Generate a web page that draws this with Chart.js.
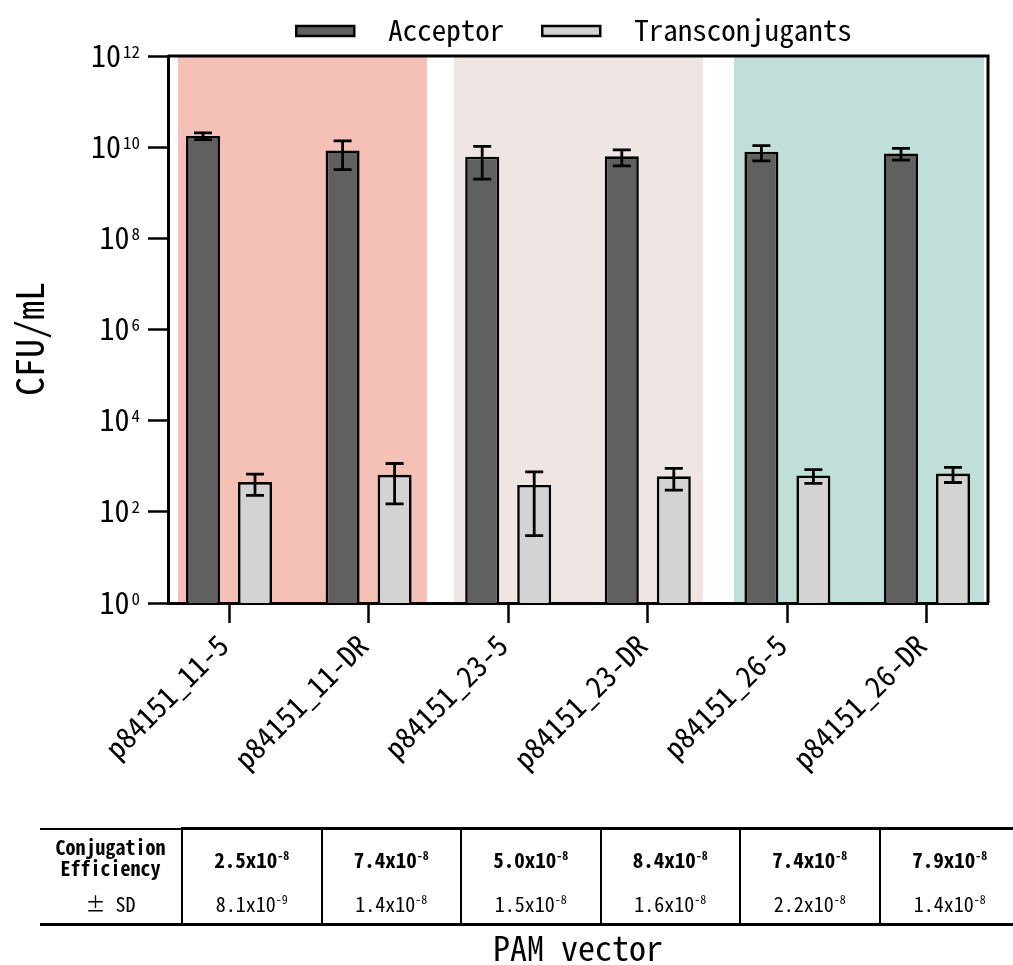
<!DOCTYPE html>
<html>
<head>
<meta charset="utf-8">
<script src="https://cdn.jsdelivr.net/npm/chart.js@4.4.1/dist/chart.umd.min.js"></script>
<style>
  html, body { margin: 0; padding: 0; background: #fff; overflow: hidden; }
  #wrap { position: relative; width: 1013px; height: 965px; overflow: hidden; }
  #chart { position: absolute; left: 0; top: 0; }
  #eff {
    position: absolute; left: 40px; top: 827px;
    border-collapse: collapse; table-layout: fixed; width: 979px;
    font-family: 'Noto Sans Mono CJK JP', 'Noto Sans Mono CJK SC', 'DejaVu Sans Mono', monospace;
    color: #000;
  }
  #eff th, #eff td { padding: 0; text-align: center; vertical-align: middle; line-height: 22px; }
  #eff tr.r1 th { height: 54px; border-top: 2px solid #000; font-weight: bold; font-size: 20px; line-height: 21px; }
  #eff tr.r1 td { height: 52px; border-top: 3px solid #000; font-weight: bold; font-size: 21px; padding-top: 3px; }
  #eff tr.r2 th, #eff tr.r2 td { height: 38px; border-bottom: 3px solid #000; font-weight: normal; font-size: 20px; }
  #eff td { border-left: 2.5px solid #000; }
  #eff sup { font-size: 12px; vertical-align: 8px; line-height: 0; }
</style>
</head>
<body>
<div id="wrap">
  <canvas id="chart" width="1013" height="965"></canvas>
  <table id="eff"></table>
</div>
<script>
const FONT = "'Noto Sans Mono CJK JP', 'Noto Sans Mono CJK SC', 'DejaVu Sans Mono', monospace";

// Plasmid constructs on the x axis
const categories = ['p84151_11-5', 'p84151_11-DR', 'p84151_23-5', 'p84151_23-DR', 'p84151_26-5', 'p84151_26-DR'];

// CFU/mL, mean and standard deviation
const acceptorMean = [1.76e10, 8.5e9, 6.2e9, 6.3e9, 7.9e9, 7.3e9];
const acceptorSD   = [0.30e10, 5.3e9, 4.2e9, 2.4e9, 2.9e9, 2.1e9];
const transMean    = [450, 650, 390, 600, 630, 690];
const transSD      = [220, 500, 360, 300, 210, 250];

// Log axis ticks (every second decade)
const yTickValues = [1e0, 1e2, 1e4, 1e6, 1e8, 1e10, 1e12];

// Conjugation efficiency table (mantissa x 10^exponent)
const effMantissa = ['2.5', '7.4', '5.0', '8.4', '7.4', '7.9'];
const effExponent = [-8, -8, -8, -8, -8, -8];
const sdMantissa  = ['8.1', '1.4', '1.5', '1.6', '2.2', '1.4'];
const sdExponent  = [-9, -8, -8, -8, -8, -8];

// Shaded bands behind each pair of constructs, in category units
const bandRanges = [[-0.365, 1.418], [1.612, 3.395], [3.617, 5.408]];
const bandColors = ['#f5c0b5', '#efe5e3', '#c0dfd9'];

const seriesNames  = ['Acceptor', 'Transconjugants'];
const seriesFill   = ['#606060', '#d3d3d3'];
const seriesErrors = [acceptorSD, transSD];

// ---- table below the plot ----
(function buildTable() {
  const t = document.getElementById('eff');
  let html = '<colgroup><col style="width:142px">' +
    categories.map(() => '<col style="width:139.5px">').join('') + '</colgroup>';
  html += '<tr class="r1"><th>Conjugation<br>Efficiency</th>' +
    effMantissa.map((m, i) => `<td>${m}x10<sup>${effExponent[i]}</sup></td>`).join('') + '</tr>';
  html += '<tr class="r2"><th>\u00b1 SD</th>' +
    sdMantissa.map((m, i) => `<td>${m}x10<sup>${sdExponent[i]}</sup></td>`).join('') + '</tr>';
  t.innerHTML = html;
})();

// ---- plugins ----
const bandPlugin = {
  id: 'bands',
  beforeDraw(chart) {
    const { ctx, chartArea, scales: { x } } = chart;
    ctx.save();
    bandRanges.forEach((r, i) => {
      const x0 = x.getPixelForValue(r[0]);
      const x1 = x.getPixelForValue(r[1]);
      ctx.fillStyle = bandColors[i];
      ctx.fillRect(x0, chartArea.top, x1 - x0, chartArea.bottom - chartArea.top);
    });
    ctx.restore();
  }
};

const errorBarPlugin = {
  id: 'errorBars',
  afterDatasetsDraw(chart) {
    const { ctx, scales: { y } } = chart;
    ctx.save();
    ctx.strokeStyle = '#000';
    ctx.lineWidth = 2.8;
    chart.data.datasets.forEach((ds, di) => {
      const meta = chart.getDatasetMeta(di);
      const errs = seriesErrors[di];
      meta.data.forEach((bar, i) => {
        const m = ds.data[i].y;
        const s = errs[i];
        const yHi = y.getPixelForValue(m + s);
        const yLo = y.getPixelForValue(Math.max(m - s, y.min));
        const cap = 9;
        ctx.beginPath();
        ctx.moveTo(bar.x, yHi); ctx.lineTo(bar.x, yLo);
        ctx.moveTo(bar.x - cap, yHi); ctx.lineTo(bar.x + cap, yHi);
        ctx.moveTo(bar.x - cap, yLo); ctx.lineTo(bar.x + cap, yLo);
        ctx.stroke();
      });
    });
    ctx.restore();
  }
};

const framePlugin = {
  id: 'frame',
  afterDatasetsDraw(chart) {
    const { ctx, chartArea } = chart;
    ctx.save();
    ctx.strokeStyle = '#000';
    ctx.lineWidth = 3;
    ctx.beginPath();
    ctx.moveTo(chartArea.left, chartArea.top);
    ctx.lineTo(chartArea.right, chartArea.top);
    ctx.lineTo(chartArea.right, chartArea.bottom);
    ctx.stroke();
    ctx.restore();
  }
};

// power-of-ten labels with raised exponents
const powerLabelPlugin = {
  id: 'powerLabels',
  afterDraw(chart) {
    const { ctx } = chart;
    const y = chart.scales.y;
    const right = y.right - y.options.grid.tickLength - 8;
    ctx.save();
    ctx.fillStyle = '#000';
    ctx.textAlign = 'right';
    ctx.textBaseline = 'alphabetic';
    y.ticks.forEach(t => {
      const py = y.getPixelForValue(t.value);
      const exp = String(Math.round(Math.log10(t.value)));
      ctx.font = `17px ${FONT}`;
      ctx.fillText(exp, right, py + 1.5);
      const w = ctx.measureText(exp).width;
      ctx.font = `30px ${FONT}`;
      ctx.fillText('10', right - w - 2, py + 10.5);
    });
    ctx.restore();
  }
};

const legendPlugin = {
  id: 'topLegend',
  afterDraw(chart) {
    const { ctx, chartArea } = chart;
    const boxW = 58, boxH = 10, gapText = 34, gapItems = 38;
    ctx.save();
    ctx.font = `29px ${FONT}`;
    const items = chart.data.datasets.map(ds => ({
      text: ds.label, fill: ds.backgroundColor, w: ctx.measureText(ds.label).width
    }));
    const total = items.reduce((s, it) => s + boxW + gapText + it.w, 0) + gapItems * (items.length - 1);
    let x = (chartArea.left + chartArea.right) / 2 - total / 2 - 4;
    const cy = chartArea.top - 26;
    ctx.textAlign = 'left';
    ctx.textBaseline = 'middle';
    items.forEach(it => {
      ctx.fillStyle = it.fill;
      ctx.fillRect(x, cy + 1 - boxH / 2, boxW, boxH);
      ctx.strokeStyle = '#000';
      ctx.lineWidth = 2.5;
      ctx.strokeRect(x, cy + 1 - boxH / 2, boxW, boxH);
      ctx.fillStyle = '#000';
      ctx.fillText(it.text, x + boxW + gapText, cy);
      x += boxW + gapText + it.w + gapItems;
    });
    ctx.restore();
  }
};

Chart.defaults.font.family = FONT;
Chart.defaults.color = '#000';

new Chart(document.getElementById('chart'), {
  type: 'bar',
  data: {
    datasets: [
      {
        label: seriesNames[0],
        data: categories.map((_, i) => ({ x: i, y: acceptorMean[i] })),
        backgroundColor: seriesFill[0],
        borderColor: '#000',
        borderWidth: 2.6
      },
      {
        label: seriesNames[1],
        data: categories.map((_, i) => ({ x: i, y: transMean[i] })),
        backgroundColor: seriesFill[1],
        borderColor: '#000',
        borderWidth: 2.6
      }
    ]
  },
  options: {
    responsive: false,
    animation: false,
    events: [],
    categoryPercentage: 0.745,
    barPercentage: 0.654,
    layout: { padding: { top: 56, right: 25, bottom: 0, left: 0 } },
    plugins: {
      legend: { display: false },
      tooltip: { enabled: false }
    },
    scales: {
      x: {
        type: 'linear',
        offset: false,
        min: -0.437,
        max: 5.437,
        afterBuildTicks(scale) {
          scale.ticks = categories.map((_, i) => ({ value: i }));
        },
        afterFit(scale) { scale.height = 362; },
        ticks: {
          callback: (v) => categories[v] ?? '',
          font: { size: 29 },
          color: '#000',
          minRotation: 45,
          maxRotation: 45,
          autoSkip: false,
          padding: 5,
          labelOffset: -6
        },
        grid: { offset: false, drawOnChartArea: false, drawTicks: true, tickLength: 20, tickWidth: 2.5, tickColor: '#000' },
        border: { display: true, color: '#000', width: 3 },
        title: {
          display: true,
          text: 'PAM vector',
          font: { size: 34, lineHeight: 1 },
          color: '#000',
          padding: { top: 0, bottom: 0 }
        }
      },
      y: {
        type: 'logarithmic',
        min: 1,
        max: 1e12,
        afterBuildTicks(scale) {
          scale.ticks = yTickValues.map(v => ({ value: v }));
        },
        afterFit(scale) { scale.width = 168; },
        ticks: { callback: () => '', autoSkip: false },
        grid: { drawOnChartArea: false, drawTicks: true, tickLength: 20, tickWidth: 2.5, tickColor: '#000' },
        border: { display: true, color: '#000', width: 3 },
        title: {
          display: true,
          text: 'CFU/mL ',
          font: { size: 38, lineHeight: 1 },
          color: '#000',
          padding: { top: 11, bottom: 0 }
        }
      }
    }
  },
  plugins: [bandPlugin, errorBarPlugin, framePlugin, powerLabelPlugin, legendPlugin]
});
</script>
</body>
</html>
